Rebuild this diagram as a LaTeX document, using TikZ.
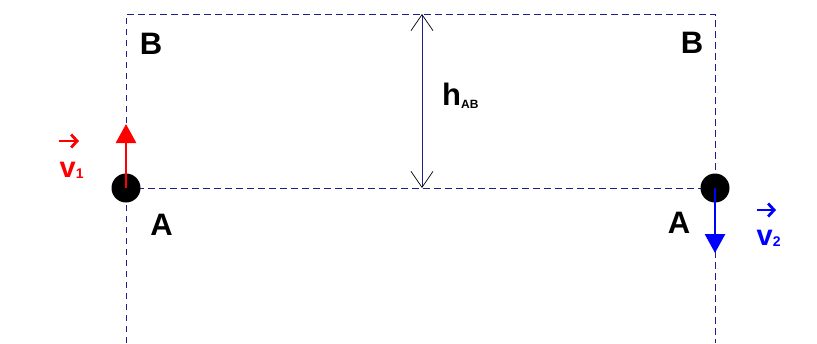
\documentclass[tikz,border=0pt]{standalone}
\usepackage{fontspec}
\setmainfont{Liberation Sans}
\usetikzlibrary{arrows.meta}
\begin{document}
\begin{tikzpicture}[x=1pt,y=-1pt,
  guide/.style={draw={rgb,255:red,30;green,30;blue,140}, line width=0.8pt, dash pattern=on 6.5pt off 4.5pt},
  ball/.style={circle, fill=black, minimum size=29pt, inner sep=0pt},
  lbl/.style={font=\bfseries\fontsize{31}{31}\selectfont, inner sep=0pt},
  vel/.style={line width=2.8pt, -{Triangle[length=19pt,width=20pt]}},
  vname/.style={font=\bfseries\fontsize{29}{29}\selectfont, inner sep=0pt},
  vec/.style={line width=2.8pt, -{Straight Barb[length=6pt,width=13pt]}}]
\useasboundingbox (0,0) rectangle (817,343);
% guide lines
\coordinate (TL) at (126,14);
\coordinate (TR) at (715,14);
\coordinate (BL) at (126,343);
\coordinate (BR) at (715,343);
\coordinate (ML) at (126,188);
\coordinate (MR) at (715,188);
\draw[guide] (BL) -- (TL) -- (TR) -- (BR);
\draw[guide] (ML) -- (MR);
% balls
\node[ball] (b1) at (ML) {};
\node[ball] (b2) at (MR) {};
% velocity arrows
\coordinate (v1e) at (126,124);
\coordinate (v2e) at (715,253);
\draw[vel, red] (b1.center) -- (v1e);
\draw[vel, blue] (b2.center) -- (v2e);
% height dimension
\coordinate (hT) at (422,14);
\coordinate (hB) at (422,188);
\draw[draw={rgb,255:red,30;green,30;blue,140}, line width=0.7pt,
  {Straight Barb[length=16pt,width=22pt,color=black,line width=0.7pt]}-{Straight Barb[length=16pt,width=22pt,color=black,line width=0.7pt]}] (hT) -- (hB);
\node[lbl, anchor=base west] (h) at (442,105) {h\raisebox{-3pt}{\fontsize{12}{12}\selectfont AB}};
% labels
\node[lbl] (B1) at (151,44) {B};
\node[lbl] (B2) at (692,43) {B};
\node[lbl] (A1) at (161.5,224.5) {A};
\node[lbl] (A2) at (679,223) {A};
% velocity names
\node[vname, red, anchor=base west] (v1) at (59.5,177) {v\raisebox{-1pt}{\fontsize{14}{14}\selectfont 1}};
\coordinate (a1s) at (59,141);
\coordinate (a1e) at (79,141);
\draw[vec, red] (a1s) -- (a1e);
\node[vname, blue, anchor=base west] (v2) at (756.5,245) {v\raisebox{-1pt}{\fontsize{14}{14}\selectfont 2}};
\coordinate (a2s) at (757,210);
\coordinate (a2e) at (776,210);
\draw[vec, blue] (a2s) -- (a2e);
\end{tikzpicture}
\end{document}
